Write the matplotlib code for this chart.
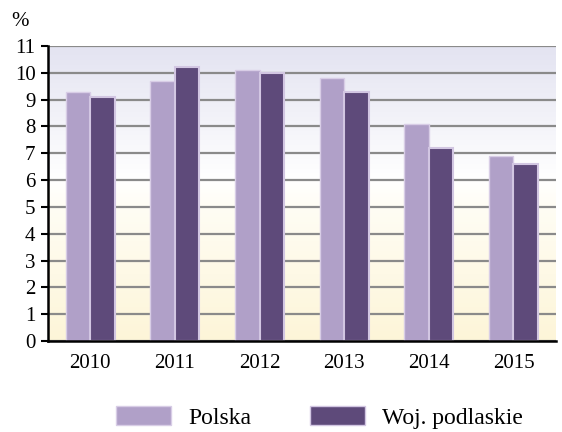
import matplotlib.pyplot as plt
import numpy as np
from matplotlib.colors import LinearSegmentedColormap
from matplotlib.patches import Patch

years = ['2010', '2011', '2012', '2013', '2014', '2015']
polska = [9.3, 9.7, 10.1, 9.8, 8.1, 6.9]
podlaskie = [9.1, 10.2, 10.0, 9.3, 7.2, 6.6]
series_names = ['Polska', 'Woj. podlaskie']

plt.rcParams['font.family'] = ['Liberation Serif', 'DejaVu Serif']

fig = plt.figure(figsize=(5.62, 4.32), dpi=100)
ax = fig.add_axes([0.0854, 0.2106, 0.9036, 0.6829])

# background gradient: lavender top, white middle, pale yellow bottom
bg = LinearSegmentedColormap.from_list(
    'bg', [(0.0, '#fdf5d8'), (0.45, '#fffdf4'), (0.55, '#ffffff'), (1.0, '#e3e3f1')])
grad = np.linspace(0, 1, 256).reshape(-1, 1)
ax.imshow(grad, cmap=bg, aspect='auto', origin='lower',
          extent=[-0.5, 5.5, 0, 11], zorder=0)

x = np.arange(len(years))
w = 0.29
ax.set_axisbelow(True)
ax.yaxis.grid(True, color='#8a8a8a', lw=1.6, zorder=1)
ax.bar(x - w / 2, polska, w, color='#b0a0c8', edgecolor='#d8cde6', lw=1.0, zorder=2)
ax.bar(x + w / 2, podlaskie, w, color='#5e4a7a', edgecolor='#d2c6e2', lw=1.5, zorder=2)

ax.set_xlim(-0.5, 5.5)
ax.set_ylim(0, 11)
ax.set_yticks(range(0, 12))
ax.set_xticks(x)
ax.set_xticklabels(years)
ax.tick_params(axis='y', length=5, width=1.5, direction='out', labelsize=15, pad=4)
ax.tick_params(axis='x', length=0, labelsize=15, pad=9)
for s in ['top', 'right']:
    ax.spines[s].set_visible(False)
ax.spines['left'].set_linewidth(1.8)
ax.spines['bottom'].set_linewidth(1.8)

fig.text(0.036, 0.95, '%', fontsize=15, ha='center', va='center')

handles = [Patch(facecolor='#b0a0c8', edgecolor='#d8cde6'),
           Patch(facecolor='#5e4a7a', edgecolor='#d2c6e2')]
fig.legend(handles, series_names, loc='center', bbox_to_anchor=(0.569, 0.034),
           ncol=2, frameon=False, fontsize=17, handlelength=2.33, handleheight=0.9,
           handletextpad=0.72, columnspacing=2.5)

fig.savefig('out.png', dpi=100)
